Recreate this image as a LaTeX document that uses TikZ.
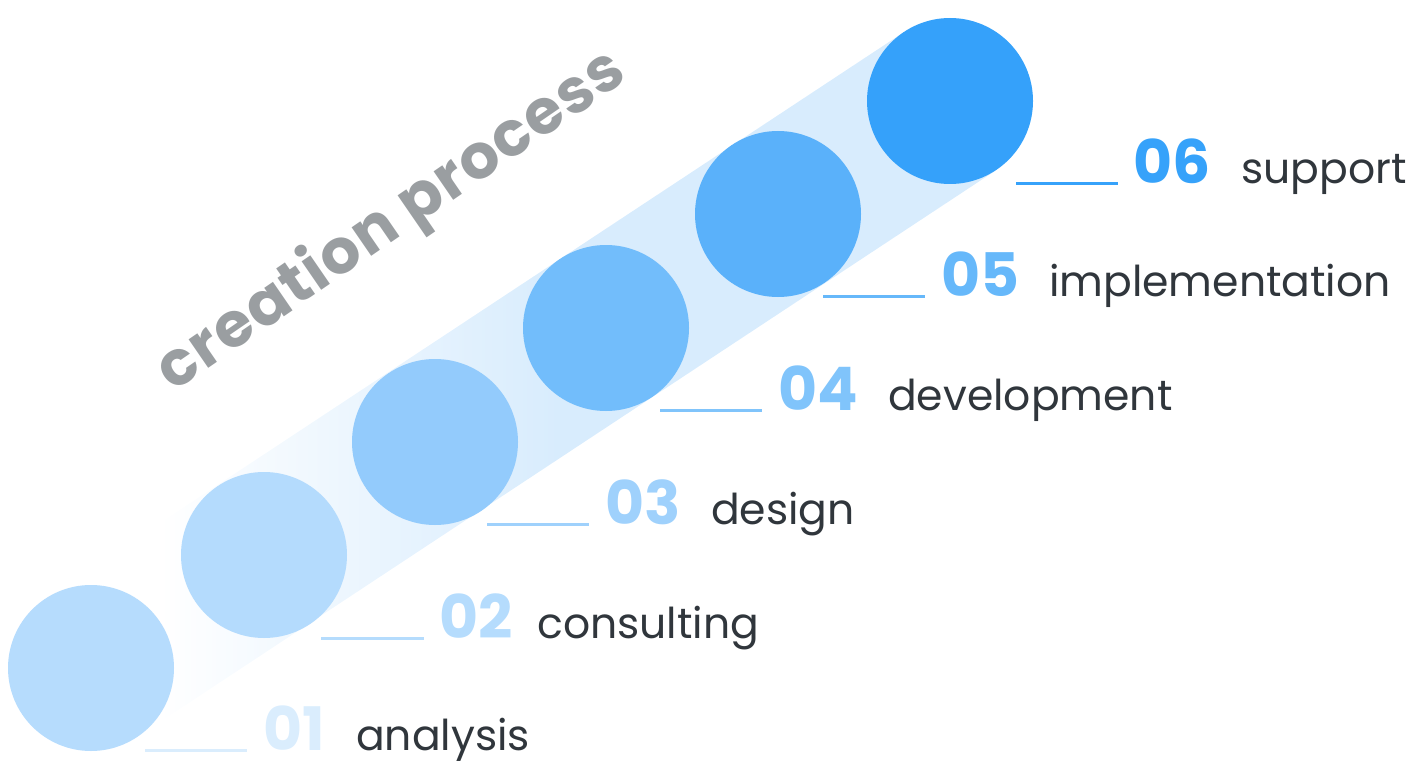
\documentclass[tikz,border=0pt]{standalone}
\usepackage{fontspec}
\setmainfont{Poppins}
\newfontfamily\pop{Poppins}
\newfontfamily\poptitle[LetterSpace=2]{Poppins}
\usetikzlibrary{positioning}
\definecolor{bandblue}{HTML}{D8ECFD}
\definecolor{cA}{HTML}{B6DCFD}
\definecolor{cB}{HTML}{B4DBFD}
\definecolor{cC}{HTML}{93CBFC}
\definecolor{cD}{HTML}{72BDFB}
\definecolor{cE}{HTML}{5AB1FA}
\definecolor{cF}{HTML}{35A1FA}
\definecolor{nA}{HTML}{DAEDFD}
\definecolor{nB}{HTML}{B5DCFD}
\definecolor{nC}{HTML}{9FD1FC}
\definecolor{nD}{HTML}{80C4FB}
\definecolor{nE}{HTML}{66B8FA}
\definecolor{nF}{HTML}{36A2FA}
\definecolor{labgray}{HTML}{30363C}
\definecolor{titlegray}{HTML}{9A9EA1}
\pgfdeclarehorizontalshading{bandfade}{100bp}{color(0bp)=(white); color(31bp)=(white); color(52bp)=(bandblue); color(100bp)=(bandblue)}
\begin{document}
\begin{tikzpicture}[x=1pt,y=1pt,
  dot/.style={circle,minimum size=166pt,inner sep=0pt,draw=none},
  num/.style={anchor=base west,inner sep=0pt,font=\pop\bfseries\fontsize{60}{60}\selectfont},
  lab/.style={anchor=base west,inner sep=0pt,text=labgray,font=\pop\fontsize{42.5}{42.5}\selectfont},
  uline/.style={line width=3pt}]
\useasboundingbox (0,0) rectangle (1413,-770);
% band
\begin{scope}[shift={(91,-668)},rotate=33.42]
  \shade[shading=bandfade] (0,-83) rectangle (1029,83);
\end{scope}
% circles
\node[dot,fill=cA] (d1) at (91,-668) {};
\node[dot,fill=cB] (d2) at (264,-555) {};
\node[dot,fill=cC] (d3) at (435,-442) {};
\node[dot,fill=cD] (d4) at (606,-328) {};
\node[dot,fill=cE] (d5) at (778,-214) {};
\node[dot,fill=cF] (d6) at (950,-101) {};
% underlines
\coordinate (a1) at (145,-750); \coordinate (b1) at (247,-750);
\coordinate (a2) at (321,-638); \coordinate (b2) at (424,-638);
\coordinate (a3) at (487,-524); \coordinate (b3) at (589,-524);
\coordinate (a4) at (660,-410); \coordinate (b4) at (762,-410);
\coordinate (a5) at (823,-296); \coordinate (b5) at (925,-296);
\coordinate (a6) at (1016,-184); \coordinate (b6) at (1118,-184);
\draw[uline,nA] (a1) -- (b1);
\draw[uline,nB] (a2) -- (b2);
\draw[uline,nC] (a3) -- (b3);
\draw[uline,nD] (a4) -- (b4);
\draw[uline,nE] (a5) -- (b5);
\draw[uline,nF] (a6) -- (b6);
% numbers
\node[num,text=nA] (n1) at (263,-750) {01};
\node[num,text=nB] (n2) at (439,-638) {02};
\node[num,text=nC] (n3) at (605,-524) {03};
\node[num,text=nD] (n4) at (778,-410) {04};
\node[num,text=nE] (n5) at (941,-296) {05};
\node[num,text=nF] (n6) at (1133,-184) {06};
% labels
\node[lab] (t1) at (356,-750) {analysis};
\node[lab] (t2) at (537,-638) {consulting};
\node[lab] (t3) at (711,-524) {design};
\node[lab] (t4) at (888,-410) {development};
\node[lab] (t5) at (1049,-296) {implementation};
\node[lab] (t6) at (1241,-184) {support};
% title
\node[rotate=34.5,text=titlegray,inner sep=0pt,font=\poptitle\bfseries\fontsize{62}{62}\selectfont] (title) at (392,-222) {creation process};
\end{tikzpicture}
\end{document}
